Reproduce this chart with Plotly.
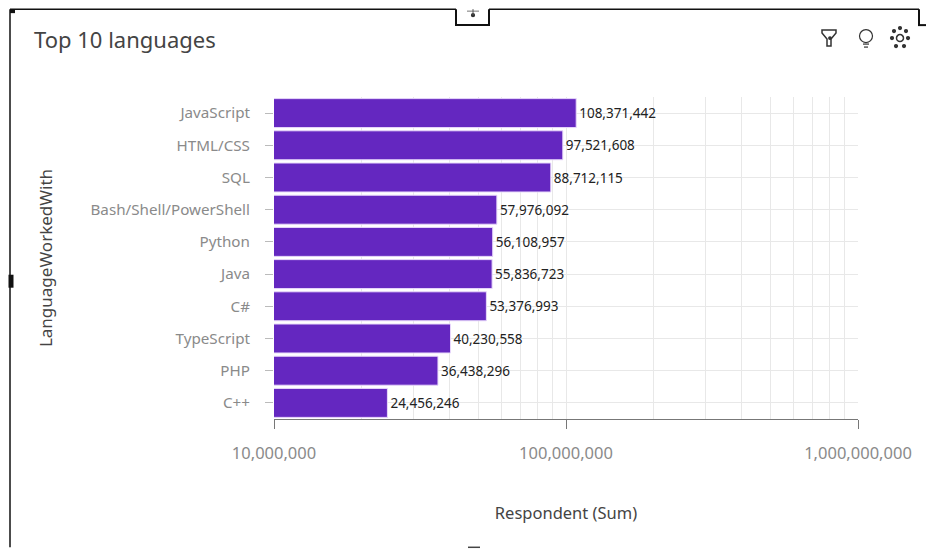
import plotly.graph_objects as go

languages = ["JavaScript", "HTML/CSS", "SQL", "Bash/Shell/PowerShell", "Python", "Java", "C#", "TypeScript", "PHP", "C++"]
respondents = [108371442, 97521608, 88712115, 57976092, 56108957, 55836723, 53376993, 40230558, 36438296, 24456246]
x_ticks = [1e7, 1e8, 1e9]
x_tick_labels = ["10,000,000", "100,000,000", "1,000,000,000"]

FONT = "Noto Sans"
GRID = "#e8e8e8"
L, R, T, B = 274, 858, 97, 419.5


def px(x):
    return (x - L) / (R - L)


def py(y):
    return (B - y) / (B - T)


fig = go.Figure(go.Bar(
    x=respondents, y=languages, orientation="h",
    marker=dict(color="#6427c0", line=dict(color="#e8d8fb", width=1)),
    text=[f"{v:,}" for v in respondents], textposition="outside",
    textfont=dict(family=FONT, size=13.5, color="#222222"),
    cliponaxis=False, width=0.9,
))

shapes = []


def line(x0, y0, x1, y1, w=2, c="#111111"):
    shapes.append(dict(type="line", xref="paper", yref="paper", x0=px(x0), x1=px(x1),
                       y0=py(y0), y1=py(y1), line=dict(color=c, width=w)))


def dot(cx, cy, r, fill="#333333", stroke=None, w=1.2):
    shapes.append(dict(type="circle", xref="paper", yref="paper",
                       x0=px(cx - r), x1=px(cx + r), y0=py(cy + r), y1=py(cy - r),
                       fillcolor=fill, line=dict(color=stroke or fill, width=w)))


def poly(points, w=1.5, c="#333333", close=False):
    d = "M " + " L ".join(f"{px(a):.5f},{py(b):.5f}" for a, b in points)
    shapes.append(dict(type="path", xref="paper", yref="paper", path=d + (" Z" if close else ""),
                       line=dict(color=c, width=w)))


# card frame with the resize handles
line(10, 9, 456, 9, 1.5)
line(489, 9, 919, 9, 1.5)
line(10, 9, 10, 548, 1.5)
line(11, 275, 11, 288, 5)
line(10, 11, 15, 11, 4)
line(456, 9, 456, 25)
line(455, 25, 490, 25)
line(489, 25, 489, 9)
line(919, 9, 919, 25)
line(918, 25, 926, 25)
line(468, 548, 480, 548, 1.5, "#444444")
# small arrow inside the top handle
dot(473, 15, 1.5)
line(467, 11, 479, 11, 1, "#777777")
line(473, 9, 473, 15, 1, "#555555")

# toolbar icons: filter, bulb, settings
poly([(822, 30), (836, 30), (836, 33), (831, 39), (831, 46), (827, 46), (827, 39), (822, 33)], close=True)
dot(830, 38, 1.3)
dot(866, 36, 6.5, fill="rgba(0,0,0,0)", stroke="#333333")
line(863, 44, 869, 44, 1.2, "#333333")
line(864, 47, 868, 47, 1.2, "#333333")
dot(900, 38, 3.5, fill="rgba(0,0,0,0)", stroke="#333333", w=1.5)
for cx, cy in [(900, 28), (894, 31), (906, 31), (892, 38), (908, 38), (896, 46), (904, 46)]:
    dot(cx, cy, 1.5)

fig.update_layout(
    width=926, height=550, autosize=False,
    margin=dict(l=L, r=926 - R, t=T, b=550 - B),
    paper_bgcolor="white", plot_bgcolor="white",
    showlegend=False, shapes=shapes,
    font=dict(family=FONT),
    title=dict(text="Top 10 languages", x=34 / 926, xanchor="left", y=1 - 40 / 550, yanchor="middle",
               font=dict(family=FONT, size=22, color="#444444")),
    xaxis=dict(type="log", range=[7, 9], tickvals=x_ticks, ticktext=x_tick_labels,
               showgrid=True, gridcolor=GRID, gridwidth=1,
               minor=dict(dtick="D1", showgrid=True, gridcolor=GRID, gridwidth=1, ticks=""),
               showline=True, linecolor="#777777", linewidth=1,
               ticks="outside", ticklen=9, tickcolor="#777777", ticklabelstandoff=10,
               tickfont=dict(family=FONT, size=16.5, color="#8a8a8a"),
               title=dict(text="Respondent (Sum)", standoff=44,
                          font=dict(family=FONT, size=16.5, color="#444444"))),
    yaxis=dict(autorange="reversed", categoryorder="array", categoryarray=languages,
               showgrid=True, gridcolor=GRID, showline=False, zeroline=False,
               ticks="outside", ticklen=8, tickcolor="#bbbbbb",
               ticklabelstandoff=12,
               tickfont=dict(family=FONT, size=15.2, color="#8a8a8a"),
               title=dict(text="LanguageWorkedWith", standoff=33,
                          font=dict(family=FONT, size=17, color="#444444"))),
)
fig.write_html("out.html", include_plotlyjs=True, post_script="document.body.style.margin='0';",
               config=dict(displayModeBar=False))
